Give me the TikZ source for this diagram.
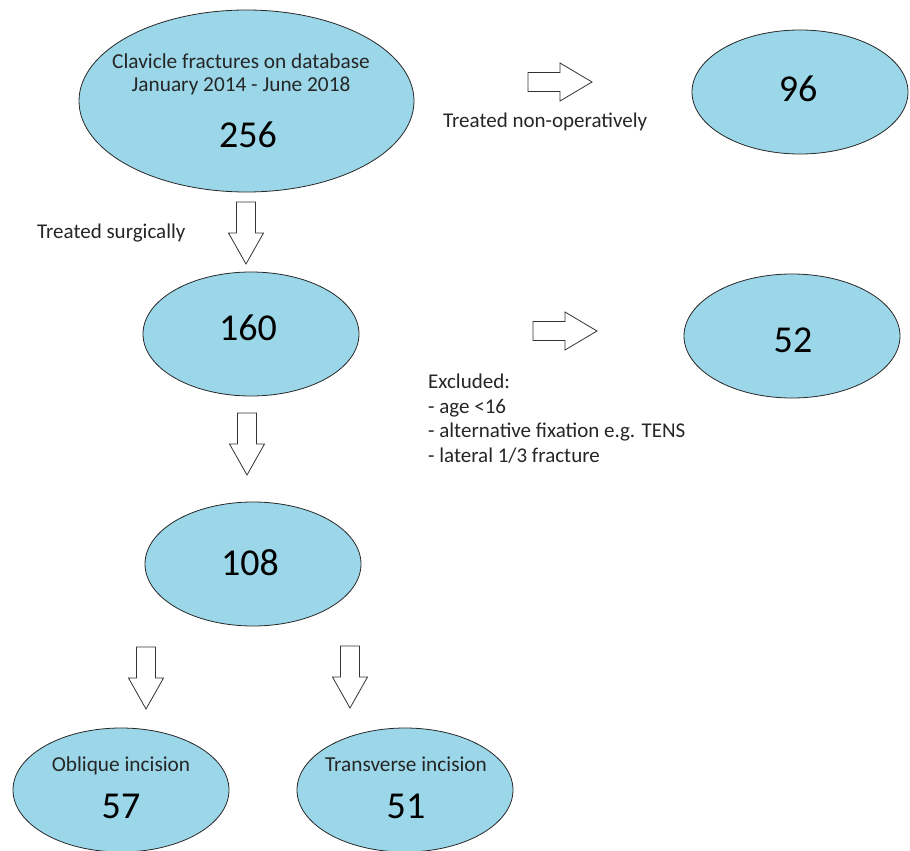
\documentclass[tikz,border=0pt]{standalone}
\usepackage{fontspec}
\setmainfont{Carlito}
\usetikzlibrary{shapes.geometric}
\definecolor{ellblue}{RGB}{155,215,233}
\definecolor{ellline}{RGB}{40,40,40}
\tikzset{
  ell/.style={ellipse, draw=ellline, line width=0.8pt, fill=ellblue, inner sep=0pt,
    minimum width=216pt, minimum height=124pt},
  numtxt/.style={inner sep=0pt, font=\fontsize{38}{42}\selectfont, text=black},
  captxt/.style={inner sep=0pt, anchor=base, font=\fontsize{21.3}{25}\selectfont, text=black!85},
  labtxt/.style={inner sep=0pt, anchor=base west, font=\fontsize{21}{25}\selectfont, text=black!85},
  arrsty/.style={draw=black!80, line width=0.8pt, fill=white},
  downarr/.pic={\path[arrsty] (-9.5,0) -- (9.5,0) -- (9.5,31) -- (17.5,31) -- (0,62) -- (-17.5,31) -- (-9.5,31) -- cycle;},
  rightarr/.pic={\path[arrsty] (0,-9.5) -- (32,-9.5) -- (32,-19) -- (64,0) -- (32,19) -- (32,9.5) -- (0,9.5) -- cycle;}
}
\begin{document}
\begin{tikzpicture}[x=1pt,y=-1pt]
\useasboundingbox[fill=white] (0,0) rectangle (910,851);
% ellipses
\node[ell, minimum width=335pt, minimum height=182pt] (e256) at (246.5,101) {};
\node[ell] (e96) at (800,92) {};
\node[ell] (e160) at (251,334) {};
\node[ell] (e52) at (792,336) {};
\node[ell] (e108) at (253,564) {};
\node[ell] (e57) at (121,790) {};
\node[ell] (e51) at (405,790) {};
% texts in ellipses
\node[captxt] (t1) at (241,68) {Clavicle fractures on database};
\node[captxt] (t2) at (241,91) {January 2014 - June 2018};
\node[numtxt] (n256) at (248,135) {256};
\node[numtxt] (n96) at (798,89) {96};
\node[numtxt] (n160) at (248,328) {160};
\node[numtxt] (n52) at (793,340) {52};
\node[numtxt] (n108) at (250,563) {108};
\node[captxt] (t57) at (121,771) {Oblique incision};
\node[numtxt] (n57) at (121,806) {57};
\node[captxt] (t51) at (406,771) {Transverse incision};
\node[numtxt] (n51) at (406,806) {51};
% labels
\node[labtxt] (ts) at (37,238) {Treated surgically};
\node[labtxt] (tn) at (443,127) {Treated non-operatively};
\node[labtxt] (ex1) at (428,388) {Excluded:};
\node[labtxt] (ex2) at (428,413) {- age <16};
\node[labtxt] (ex3) at (428,437) {- alternative fixation e.g. TENS};
\node[labtxt] (ex4) at (428,462) {- lateral 1/3 fracture};
% block arrows
\pic at (246,202) {downarr};
\pic at (247,413) {downarr};
\pic at (146,647) {downarr};
\pic at (350,646) {downarr};
\pic at (528,82) {rightarr};
\pic at (533,331) {rightarr};
\end{tikzpicture}
\end{document}
